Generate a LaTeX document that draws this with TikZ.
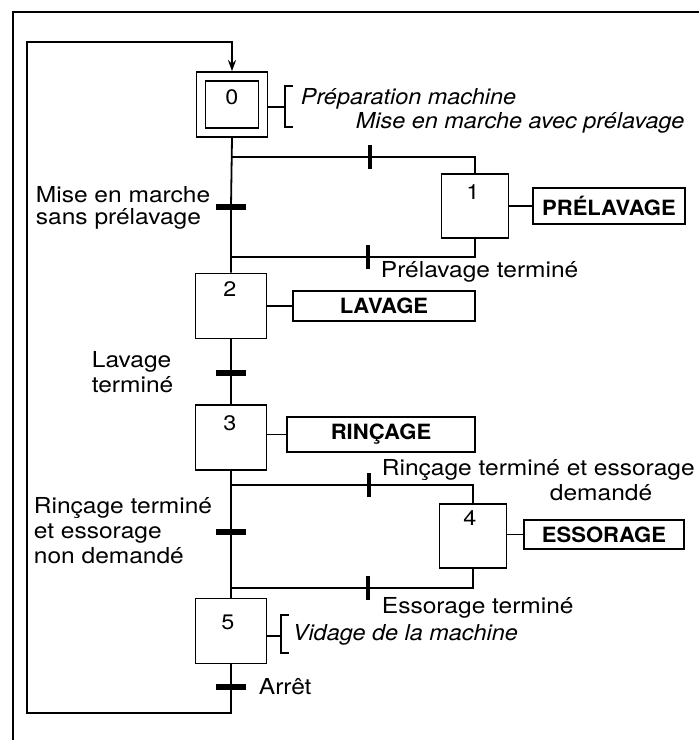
\documentclass[tikz,border=0pt]{standalone}
\usepackage{fontspec}
\setmainfont[FakeStretch=1.115]{TeX Gyre Heros}
\newfontfamily\itfam[FakeStretch=1.065]{TeX Gyre Heros}
\newfontfamily\bdfam[FakeStretch=1.05]{TeX Gyre Heros}
\usetikzlibrary{arrows.meta}
\begin{document}
\begin{tikzpicture}[x=1pt,y=-1pt,line width=1.8pt,
  stepbox/.style={draw, minimum width=71pt, minimum height=65pt, inner sep=0pt},
  sidestep/.style={draw, minimum width=67pt, minimum height=64pt, inner sep=0pt},
  num/.style={font=\fontsize{21}{24}\selectfont, inner sep=0pt},
  actbox/.style={draw, font=\bdfam\fontsize{21}{24}\selectfont\bfseries, inner sep=0pt},
  txt/.style={font=\fontsize{22}{25}\selectfont, inner sep=0pt, anchor=base west},
  itxt/.style={font=\itfam\fontsize{22}{25}\selectfont\itshape, inner sep=0pt, anchor=base west},
  hbar/.style={fill, minimum width=30pt, minimum height=6pt, inner sep=0pt},
  vbar/.style={fill, minimum width=4pt, minimum height=24pt, inner sep=0pt}]
\fill[white] (0,0) rectangle (699,740);
\useasboundingbox (0,0) rectangle (699,740);
% page frame
\draw (13,740) -- (13,12) -- (699,12);
% steps
\node[stepbox] (s0) at (232,104.5) {};
\node[draw, minimum width=53pt, minimum height=47pt, inner sep=0pt] (s0i) at (232,104.5) {};
\node[sidestep] (s1) at (475,206) {};
\node[stepbox] (s2) at (231,306) {};
\node[stepbox] (s3) at (231,437.5) {};
\node[sidestep] (s4) at (473,536) {};
\node[stepbox] (s5) at (231,631) {};
% step numbers
\node[num] (n0) at (232,97) {0};
\node[num] (n1) at (473,192) {1};
\node[num] (n2) at (230,289) {2};
\node[num] (n3) at (230,423) {3};
\node[num] (n4) at (470,518) {4};
\node[num] (n5) at (228,622) {5};
% transitions
\node[hbar] (t02) at (231,207) {};
\node[vbar] (t01) at (370,157) {};
\node[vbar] (t12) at (368,257) {};
\node[hbar] (t23) at (231,373) {};
\node[hbar] (t35) at (231,532) {};
\node[vbar] (t34) at (369,485) {};
\node[vbar] (t45) at (368,588) {};
\node[hbar] (t50) at (231,687) {};
% junction coordinates
\coordinate (b1) at (231,157);
\coordinate (c1) at (231,257);
\coordinate (b4) at (231,485);
\coordinate (c4) at (231,588);
\coordinate (lb) at (231,713);
\coordinate (lbl) at (27,713);
\coordinate (ltl) at (27,42);
% main line
\draw (s0.south) -- (t02.center) -- (s2.north);
\draw (s2.south) -- (t23.center) -- (s3.north);
\draw (s3.south) -- (t35.center) -- (s5.north);
% branch to step 1
\draw (b1) -- (t01.center) -- (b1 -| s1.north) -- (s1.north);
\draw (s1.south) -- (s1.south |- c1) -- (t12.center) -- (c1);
% branch to step 4
\draw (b4) -- (t34.center) -- (b4 -| s4.north) -- (s4.north);
\draw (s4.south) -- (s4.south |- c4) -- (t45.center) -- (c4);
% loop back
\draw[-{Stealth[length=11pt,width=8pt]}] (s5.south) -- (t50.center) -- (lb) -- (lbl) -- (ltl) -- (s0.north |- ltl) -- (s0.north);
% actions
\node[actbox, minimum width=152pt, minimum height=36pt] (a1) at (609,206) {PRÉLAVAGE};
\node[actbox, minimum width=182pt, minimum height=30pt] (a2) at (384,306) {LAVAGE};
\node[actbox, minimum width=188pt, minimum height=35pt] (a3) at (381,434.5) {RINÇAGE};
\node[actbox, minimum width=160pt, minimum height=29pt] (a4) at (604,534.5) {ESSORAGE};
\draw (s1.east) -- (a1.west);
\draw (s2.east) -- (a2.west);
\draw (s3.east |- a3.west) -- (a3.west);
\draw (s4.east |- a4.west) -- (a4.west);
% bracket comments
\coordinate (br0) at (285,107);
\draw (s0.east |- br0) -- (br0);
\draw (293,86) -- (285,86) -- (285,127) -- (293,127);
\coordinate (br5) at (281,636);
\draw (s5.east |- br5) -- (br5);
\draw (289,615) -- (281,615) -- (281,653) -- (289,653);
% texts
\node[itxt] (c0) at (300,104) {Préparation machine};
\node[itxt] (l01) at (355,128) {Mise en marche avec prélavage};
\node[txt] (l02a) at (35,202) {Mise en marche};
\node[txt] (l02b) at (35,224) {sans prélavage};
\node[txt] (l12) at (380,277) {Prélavage terminé};
\node[txt] (l23a) at (91,367) {Lavage};
\node[txt] (l23b) at (91,392) {terminé};
\node[txt] (l34a) at (381,475) {Rinçage terminé et essorage};
\node[txt] (l34b) at (549,500) {demandé};
\node[txt] (l35a) at (33,513) {Rinçage terminé};
\node[txt] (l35b) at (33,538) {et essorage};
\node[txt] (l35c) at (33,563) {non demandé};
\node[txt] (l45) at (381,613) {Essorage terminé};
\node[itxt] (c5) at (292,640) {Vidage de la machine};
\node[txt] (l50) at (258,694) {Arrêt};
\end{tikzpicture}
\end{document}
